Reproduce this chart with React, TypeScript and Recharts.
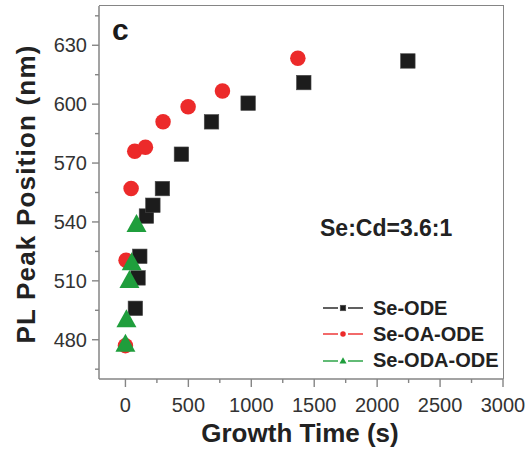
import { ScatterChart, Scatter, XAxis, YAxis, Legend } from "recharts"

// growth time (s) vs PL peak (nm)
const odeTime = [79, 100, 114, 167, 218, 294, 445, 684, 975, 1417, 2244]
const odePeak = [496, 511.5, 522.5, 543, 548.5, 557, 574.5, 591, 600.5, 611, 622]

const oaTime = [0, 5, 45, 74, 159, 299, 498, 771, 1370]
const oaPeak = [477, 520.5, 557, 576, 578, 591, 598.7, 606.7, 623.4]

const odaTime = [0, 8, 32, 50, 88]
const odaPeak = [477.5, 490, 510, 519, 538.5]

const timeTicks = [0, 250, 500, 750, 1000, 1250, 1500, 1750, 2000, 2250, 2500, 2750, 3000]
const peakTicks = [465, 480, 495, 510, 525, 540, 555, 570, 585, 600, 615, 630, 645]

const zip = (t: number[], p: number[]) => t.map((v, i) => ({ time: v, peak: p[i] }))

const series = [
  { name: "Se-ODE", color: "#1c1c1c", shape: "square", data: zip(odeTime, odePeak) },
  { name: "Se-OA-ODE", color: "#ec2a2a", shape: "circle", data: zip(oaTime, oaPeak) },
  { name: "Se-ODA-ODE", color: "#1f9e3c", shape: "triangle", data: zip(odaTime, odaPeak) },
]

const W = 530
const H = 451
const margin = { top: 6, right: 27, bottom: 0, left: 0 }
const yAxisW = 99
const xAxisH = 72

const axisGray = "#858585"
const font = "'Liberation Sans', Arial, sans-serif"

function marker(shape: string, color: string, cx: number, cy: number, s: number) {
  if (shape === "square") {
    return <rect x={cx - s / 2} y={cy - s / 2} width={s} height={s} fill={color} stroke="#4a4a4a" strokeWidth={0.6} />
  }
  if (shape === "circle") {
    return <circle cx={cx} cy={cy} r={s / 2} fill={color} />
  }
  const h = s * 0.9
  return (
    <polygon
      points={`${cx},${cy - h * 0.6} ${cx + s / 2},${cy + h * 0.4} ${cx - s / 2},${cy + h * 0.4}`}
      fill={color}
    />
  )
}

function TimeTick(props: any) {
  const { x, y, payload } = props
  const major = payload.value % 500 === 0
  return (
    <g>
      <line x1={x} x2={x} y1={y} y2={y + (major ? 8 : 4)} stroke={axisGray} strokeWidth={1.4} />
      {major && (
        <text x={x} y={y + 33} textAnchor="middle" fontSize={20} fill="#333" fontFamily={font}>
          {payload.value}
        </text>
      )}
    </g>
  )
}

function PeakTick(props: any) {
  const { x, y, payload } = props
  const major = payload.value % 30 === 0
  return (
    <g>
      <line x1={x} x2={x - (major ? 7 : 4)} y1={y} y2={y} stroke={axisGray} strokeWidth={1.4} />
      {major && (
        <text x={x - 12} y={y + 7} textAnchor="end" fontSize={20} fill="#333" fontFamily={font}>
          {payload.value}
        </text>
      )}
    </g>
  )
}

function LegendBox() {
  return (
    <div style={{ fontFamily: font }}>
      {series.map((s) => (
        <div key={s.name} style={{ display: "flex", alignItems: "center", height: 26.3 }}>
          <svg width={44} height={16} style={{ marginRight: 6 }}>
            <line x1={0} x2={15} y1={8} y2={8} stroke={s.color} strokeWidth={1.4} />
            <line x1={25} x2={40} y1={8} y2={8} stroke={s.color} strokeWidth={1.4} />
            {marker(s.shape, s.color, 20, 8, s.shape === "triangle" ? 7 : 5.5)}
          </svg>
          <span style={{ fontSize: 20, fontWeight: "bold", color: "#222" }}>{s.name}</span>
        </div>
      ))}
    </div>
  )
}

export default function App() {
  // plot box edges, from the chart size and margins
  const left = margin.left + yAxisW
  const right = W - margin.right
  const top = margin.top
  const bottom = H - margin.bottom - xAxisH

  return (
    <div style={{ position: "absolute", left: 0, top: 0, width: W, height: H }}>
      <ScatterChart width={W} height={H} margin={margin}>
        <XAxis
          dataKey="time"
          type="number"
          domain={[-210, 3000]}
          ticks={timeTicks}
          interval={0}
          height={xAxisH}
          tickSize={0}
          tickMargin={0}
          tickLine={false}
          tick={<TimeTick />}
          axisLine={{ stroke: axisGray, strokeWidth: 1.5 }}
        />
        <YAxis
          dataKey="peak"
          type="number"
          domain={[460, 650]}
          ticks={peakTicks}
          interval={0}
          width={yAxisW}
          tickSize={0}
          tickMargin={0}
          tickLine={false}
          tick={<PeakTick />}
          axisLine={{ stroke: axisGray, strokeWidth: 1.5 }}
        />
        {series.map((s) => (
          <Scatter
            key={s.name}
            name={s.name}
            data={s.data}
            isAnimationActive={false}
            shape={(p: any) => marker(s.shape, s.color, p.cx, p.cy, s.shape === "triangle" ? 20 : s.shape === "circle" ? 15.5 : 14.5)}
          />
        ))}
        <Legend
          layout="vertical"
          align="center"
          verticalAlign="middle"
          content={() => <LegendBox />}
          wrapperStyle={{ position: "absolute", left: 323, top: 295, width: "auto" }}
        />
        <text x={112} y={40} fontSize={30} fontWeight="bold" fill="#1a1a1a" fontFamily={font}>
          c
        </text>
        <text x={320} y={236} fontSize={23} fontWeight="bold" fill="#222" fontFamily={font}>
          Se:Cd=3.6:1
        </text>
        <text x={300} y={442} textAnchor="middle" fontSize={26} fontWeight="bold" fill="#222" fontFamily={font}>
          Growth Time (s)
        </text>
        <text
          x={35}
          y={194}
          transform="rotate(-90 35 194)"
          textAnchor="middle"
          fontSize={26}
          fontWeight="bold"
          letterSpacing={1.2}
          fill="#222"
          fontFamily={font}
        >
          PL Peak Position (nm)
        </text>
      </ScatterChart>
      {/* top and right edges of the frame, laid over the chart */}
      <div
        style={{
          position: "absolute",
          left: left,
          top: top - 0.75,
          width: right - left + 0.75,
          height: bottom - top + 0.75,
          boxSizing: "border-box",
          borderTop: `1.5px solid ${axisGray}`,
          borderRight: `1.5px solid ${axisGray}`,
          pointerEvents: "none",
        }}
      />
    </div>
  )
}
